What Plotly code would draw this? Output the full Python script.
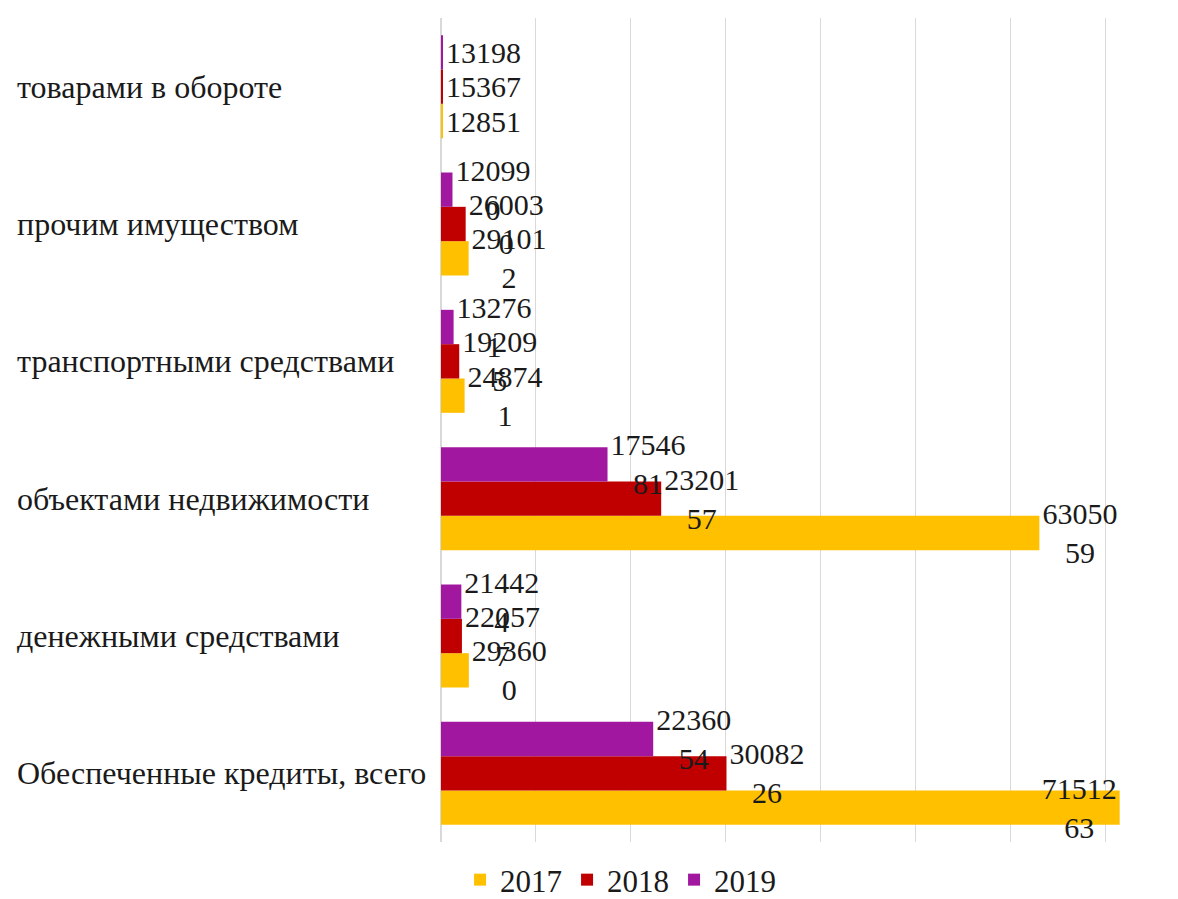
import plotly.graph_objects as go

categories = [
    "Обеспеченные кредиты, всего",
    "денежными средствами",
    "объектами недвижимости",
    "транспортными средствами",
    "прочим имуществом",
    "товарами в обороте",
]
years = ["2017", "2018", "2019"]
v2017 = [7151263, 293600, 6305059, 248741, 291012, 12851]
v2018 = [3008226, 220577, 2320157, 192095, 260030, 15367]
v2019 = [2236054, 214424, 1754681, 132761, 120990, 13198]
colors = ["#FFC000", "#C00000", "#A2179F"]

FONT = "Liberation Serif"
XMAX = 7.85e6


def wrap(v, n=5):
    s = str(v)
    return "<br>".join(s[i:i + n] for i in range(0, len(s), n))


fig = go.Figure()
for name, vals, col in zip(years, [v2017, v2018, v2019], colors):
    fig.add_trace(go.Bar(
        y=categories, x=vals, name=name, orientation="h",
        marker=dict(color=col, line=dict(width=0)),
        text=[wrap(v) for v in vals],
        textposition=["inside" if v > 0.88 * XMAX else "outside" for v in vals],
        insidetextanchor="end",
        textfont=dict(family=FONT, size=30, color="#1a1a1a"),
        insidetextfont=dict(family=FONT, size=30, color="#1a1a1a"),
        outsidetextfont=dict(family=FONT, size=30, color="#1a1a1a"),
        constraintext="none", cliponaxis=False,
    ))

for c in categories:
    fig.add_annotation(
        x=-0.572, xref="paper", y=c, yref="y", text=c, showarrow=False,
        xanchor="left", font=dict(family=FONT, size=32, color="#1a1a1a"),
    )

fig.update_layout(
    width=1178, height=899,
    margin=dict(l=433, r=0, t=10, b=65),
    paper_bgcolor="white", plot_bgcolor="white",
    barmode="group", bargap=0.25, bargroupgap=0,
    showlegend=True,
    legend=dict(orientation="h", xref="container", x=0.52, xanchor="center",
                yref="container", y=0.0, yanchor="bottom",
                font=dict(family=FONT, size=31, color="#1a1a1a"),
                itemwidth=30, tracegroupgap=0),
    font=dict(family=FONT),
)
fig.update_xaxes(range=[0, XMAX], dtick=1e6, showgrid=True, gridcolor="#D9D9D9",
                 gridwidth=1, zeroline=True, zerolinecolor="#D9D9D9",
                 showticklabels=False, ticks="", showline=False)
fig.update_yaxes(showticklabels=False, ticks="", showgrid=False, showline=False)

fig.write_html("out.html")
